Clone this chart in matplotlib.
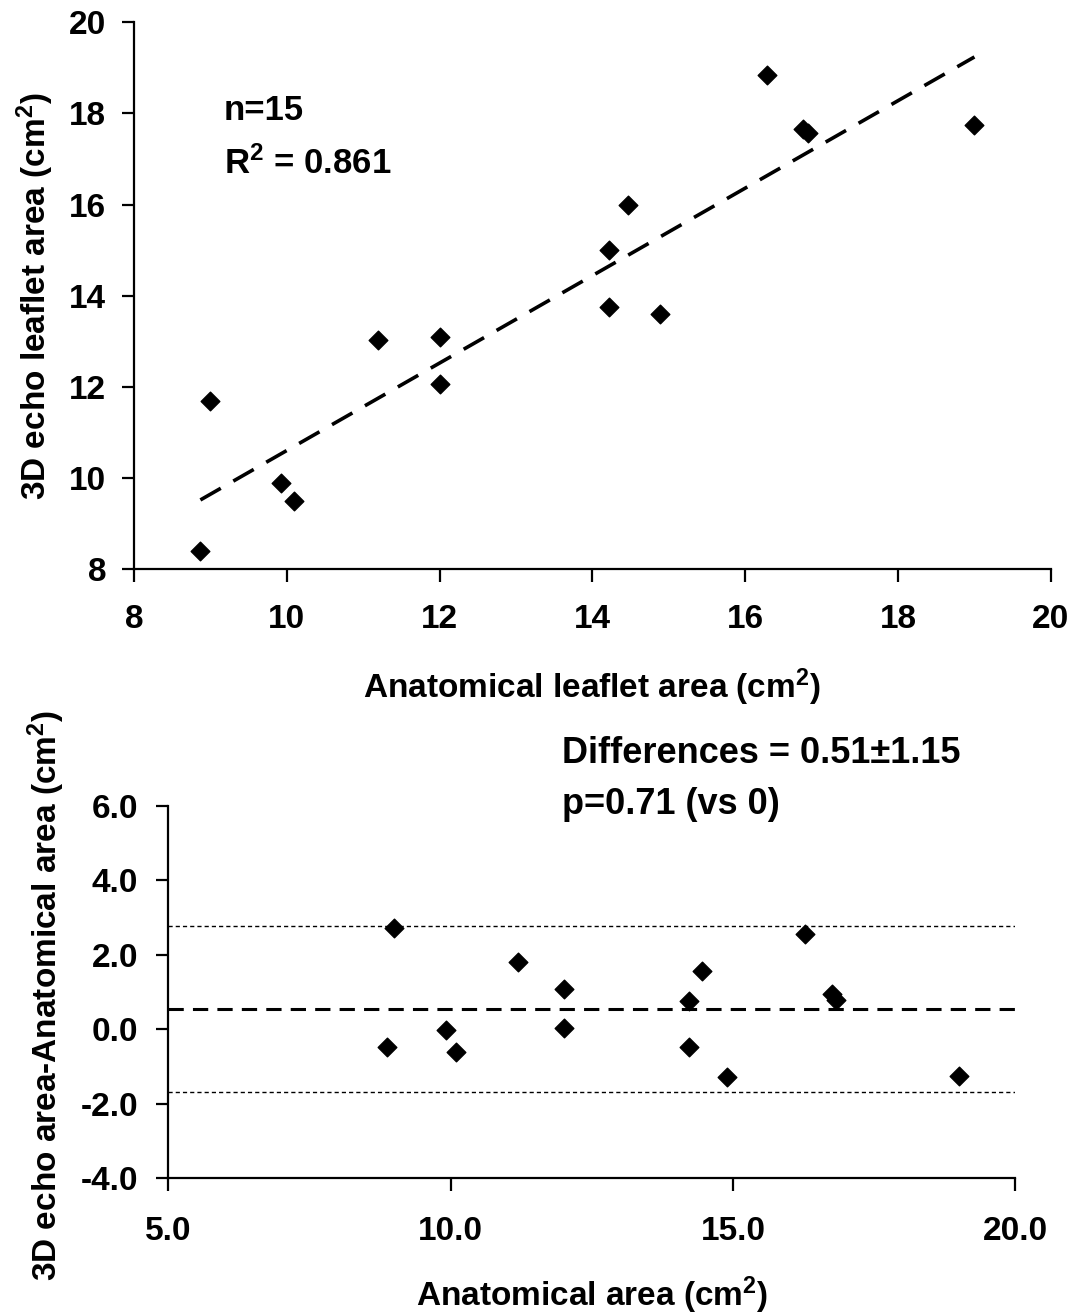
import numpy as np
import matplotlib
matplotlib.use('Agg')
import matplotlib.pyplot as plt
from matplotlib.ticker import FormatStrFormatter

plt.rcParams['font.family'] = ['Liberation Sans', 'DejaVu Sans']
plt.rcParams['font.weight'] = 'bold'
plt.rcParams['axes.labelweight'] = 'bold'
plt.rcParams['axes.unicode_minus'] = False
plt.rcParams['mathtext.fontset'] = 'custom'
plt.rcParams['mathtext.rm'] = 'Liberation Sans:bold'
plt.rcParams['mathtext.it'] = 'Liberation Sans:bold'
plt.rcParams['mathtext.bf'] = 'Liberation Sans:bold'

# anatomical vs 3D echo leaflet area (cm2)
anatomical = [8.87, 9.0, 9.92, 10.1, 11.19, 12.0, 12.0, 14.22, 14.22, 14.46, 14.89, 16.28, 16.75, 16.82, 19.0]
echo = [8.4, 11.68, 9.89, 9.5, 13.02, 13.1, 12.05, 15.0, 13.74, 16.0, 13.59, 18.85, 17.66, 17.56, 17.75]
# bland-altman differences
difference = [-0.47, 2.72, -0.03, -0.6, 1.82, 1.08, 0.02, 0.77, -0.47, 1.56, -1.29, 2.56, 0.95, 0.79, -1.26]

fit_slope = 0.96
fit_intercept = 1.0
mean_diff = 0.55
upper_loa = 2.77
lower_loa = -1.68

fig = plt.figure(figsize=(10.8, 13.14), dpi=100)
ax1 = fig.add_axes([0.124, 0.567, 0.849, 0.416])
ax2 = fig.add_axes([0.156, 0.1035, 0.784, 0.2831])

for ax in (ax1, ax2):
    ax.spines['top'].set_visible(False)
    ax.spines['right'].set_visible(False)
    ax.spines['left'].set_linewidth(1.6)
    ax.spines['bottom'].set_linewidth(1.6)
    ax.tick_params(labelsize=24, length=9, width=1.6, direction='out')

# top panel
ax1.scatter(anatomical, echo, marker='D', s=90, color='black', zorder=3)
xfit = np.array([min(anatomical), max(anatomical)])
ax1.plot(xfit, fit_slope * xfit + fit_intercept, color='black', lw=2.6,
         linestyle=(0, (6.5, 4)))
ax1.set_xlim(8, 20)
ax1.set_ylim(8, 20)
ax1.set_xticks(np.arange(8, 21, 2))
ax1.set_yticks(np.arange(8, 21, 2))
ax1.tick_params(axis='x', pad=16)
ax1.tick_params(axis='y', pad=11)
ax1.text(9.18, 18.07, 'n=15', fontsize=25, va='center')
ax1.text(9.18, 16.91, r'R$^2$ = 0.861', fontsize=25, va='center')
ax1.set_xlabel(r'Anatomical leaflet area (cm$^2$)', fontsize=24)
ax1.set_ylabel(r'3D echo leaflet area (cm$^2$)', fontsize=24)
ax1.xaxis.set_label_coords(0.5, -0.216)
ax1.xaxis.label.set_va('center')
ax1.yaxis.set_label_coords(-0.108, 0.5)
ax1.yaxis.label.set_va('center')

# bottom panel
ax2.scatter(anatomical, difference, marker='D', s=90, color='black', zorder=3)
ax2.axhline(mean_diff, color='black', lw=2.2, linestyle=(0, (5, 3)))
ax2.axhline(upper_loa, color='black', lw=1.0, linestyle=(0, (3, 2.2)))
ax2.axhline(lower_loa, color='black', lw=1.0, linestyle=(0, (3, 2.2)))
ax2.set_xlim(5, 20)
ax2.set_ylim(-4, 6)
ax2.set_xticks([5, 10, 15, 20])
ax2.set_yticks(np.arange(-4, 7, 2))
ax2.xaxis.set_major_formatter(FormatStrFormatter('%.1f'))
ax2.yaxis.set_major_formatter(FormatStrFormatter('%.1f'))
ax2.tick_params(axis='x', pad=18)
ax2.tick_params(axis='y', pad=13)
ax2.text(11.98, 7.42, 'Differences = 0.51\u00b11.15', fontsize=26, va='center')
ax2.text(11.98, 6.05, 'p=0.71 (vs 0)', fontsize=26, va='center')
ax2.set_xlabel(r'Anatomical area (cm$^2$)', fontsize=24)
ax2.set_ylabel(r'3D echo area-Anatomical area (cm$^2$)', fontsize=24)
ax2.xaxis.set_label_coords(0.5, -0.315)
ax2.xaxis.label.set_va('center')
ax2.yaxis.set_label_coords(-0.144, 0.49)
ax2.yaxis.label.set_va('center')

fig.savefig('out.png', dpi=100)
